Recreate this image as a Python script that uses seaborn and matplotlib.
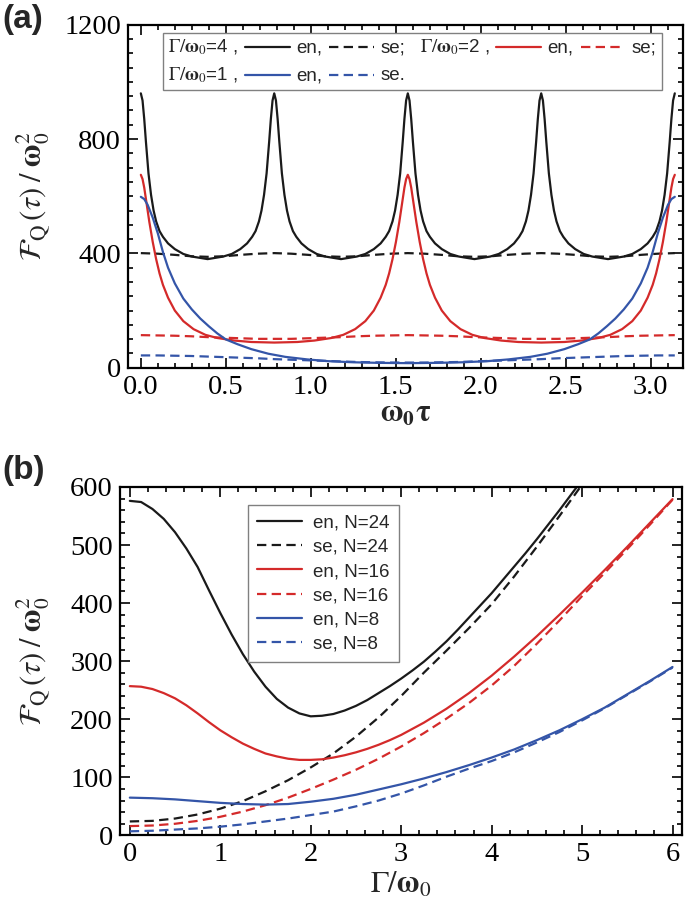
import matplotlib.pyplot as plt
import seaborn as sns
from matplotlib.lines import Line2D
from matplotlib.offsetbox import (AnchoredOffsetbox, DrawingArea, HPacker,
                                  TextArea, VPacker)
from matplotlib.ticker import FormatStrFormatter, MultipleLocator

# ---- panel (a): F_Q(tau)/w0^2 against w0*tau ----
# Gamma/w0 = 4, entangled
en4_x = [0, 0.01, 0.02, 0.03, 0.045, 0.06, 0.075, 0.09, 0.11, 0.13, 0.16, 0.20, 0.25, 0.30, 0.393,
         0.485, 0.535, 0.585, 0.625, 0.655, 0.675, 0.695, 0.710, 0.725, 0.740, 0.755, 0.765, 0.775, 0.785,
         0.795, 0.805, 0.815, 0.830, 0.845, 0.860, 0.875, 0.895, 0.915, 0.945, 0.985, 1.035, 1.085, 1.178,
         1.271, 1.321, 1.371, 1.411, 1.441, 1.461, 1.481, 1.496, 1.511, 1.526, 1.541, 1.551, 1.561, 1.571,
         1.581, 1.591, 1.601, 1.616, 1.631, 1.646, 1.661, 1.681, 1.701, 1.731, 1.771, 1.821, 1.871, 1.963,
         2.056, 2.106, 2.156, 2.196, 2.226, 2.246, 2.266, 2.281, 2.296, 2.311, 2.326, 2.336, 2.346, 2.356,
         2.366, 2.376, 2.386, 2.401, 2.416, 2.431, 2.446, 2.466, 2.486, 2.516, 2.556, 2.606, 2.656, 2.749,
         2.842, 2.892, 2.942, 2.982, 3.012, 3.032, 3.052, 3.067, 3.082, 3.097, 3.112, 3.122, 3.132, 3.142]
en4_y = [960, 935, 870, 790, 680, 605, 550, 512, 478, 458, 435, 415, 398, 389, 380,
         389, 398, 415, 435, 458, 478, 512, 550, 605, 680, 790, 870, 935, 960,
         935, 870, 790, 680, 605, 550, 512, 478, 458, 435, 415, 398, 389, 380,
         389, 398, 415, 435, 458, 478, 512, 550, 605, 680, 790, 870, 935, 960,
         935, 870, 790, 680, 605, 550, 512, 478, 458, 435, 415, 398, 389, 380,
         389, 398, 415, 435, 458, 478, 512, 550, 605, 680, 790, 870, 935, 960,
         935, 870, 790, 680, 605, 550, 512, 478, 458, 435, 415, 398, 389, 380,
         389, 398, 415, 435, 458, 478, 512, 550, 605, 680, 790, 870, 935, 960]

# Gamma/w0 = 2, entangled
en2_x = [0, 0.01, 0.02, 0.035, 0.05, 0.07, 0.09, 0.11, 0.13, 0.16, 0.20, 0.25, 0.31, 0.38, 0.45, 0.55, 0.65, 0.785,
         0.921, 1.021, 1.121, 1.191, 1.261, 1.321, 1.371, 1.411, 1.441, 1.461, 1.481, 1.501, 1.521, 1.536, 1.551, 1.561, 1.571,
         1.581, 1.591, 1.606, 1.621, 1.641, 1.661, 1.681, 1.701, 1.731, 1.771, 1.821, 1.881, 1.951, 2.021, 2.121, 2.221, 2.356,
         2.492, 2.592, 2.692, 2.762, 2.832, 2.892, 2.942, 2.982, 3.012, 3.032, 3.052, 3.072, 3.092, 3.107, 3.122, 3.132, 3.142]
en2_y = [675, 660, 630, 570, 510, 440, 380, 330, 290, 245, 200, 163, 135, 115, 104, 95, 90, 88,
         90, 95, 104, 115, 135, 163, 200, 245, 290, 330, 380, 440, 510, 570, 630, 660, 675,
         660, 630, 570, 510, 440, 380, 330, 290, 245, 200, 163, 135, 115, 104, 95, 90, 88,
         90, 95, 104, 115, 135, 163, 200, 245, 290, 330, 380, 440, 510, 570, 630, 660, 675]

# Gamma/w0 = 1, entangled
en1_x = [0, 0.02, 0.04, 0.07, 0.10, 0.13, 0.16, 0.20, 0.25, 0.30, 0.35, 0.40, 0.45, 0.50, 0.57, 0.65,
         0.75, 0.85, 0.98, 1.10, 1.25, 1.40, 1.571,
         1.742, 1.892, 2.042, 2.162, 2.292, 2.392, 2.492, 2.572, 2.642, 2.692, 2.742, 2.792, 2.842,
         2.892, 2.942, 2.982, 3.012, 3.042, 3.072, 3.102, 3.122, 3.142]
en1_y = [598, 590, 570, 525, 470, 405, 350, 295, 242, 204, 172, 145, 120, 99, 82, 65,
         49, 38, 29, 23, 19, 17, 16,
         17, 19, 23, 29, 38, 49, 65, 82, 99, 120, 145, 172, 204,
         242, 295, 350, 405, 470, 525, 570, 590, 598]

# separable curves
se_x = [0.000, 0.098, 0.196, 0.295, 0.393, 0.491, 0.589, 0.687, 0.785, 0.884, 0.982,
        1.080, 1.178, 1.276, 1.374, 1.473, 1.571, 1.669, 1.767, 1.865, 1.963, 2.062,
        2.160, 2.258, 2.356, 2.454, 2.553, 2.651, 2.749, 2.847, 2.945, 3.043, 3.142]
se4_y = [401, 399, 395, 390, 388, 390, 395, 399, 401, 399, 395, 390, 388, 390, 395, 399,
         401, 399, 395, 390, 388, 390, 395, 399, 401, 399, 395, 390, 388, 390, 395, 399, 401]
se2_y = [114, 113, 112, 110, 107, 105, 103, 101, 101, 101, 103, 105, 107, 110, 112, 113,
         114, 113, 112, 110, 107, 105, 103, 101, 101, 101, 103, 105, 107, 110, 112, 113, 114]
se1_y = [43, 43, 42, 41, 39, 37, 35, 33, 30, 28, 26, 24, 22, 20, 19, 18,
         18, 18, 19, 20, 22, 24, 26, 28, 30, 33, 35, 37, 39, 41, 42, 43, 43]

# ---- panel (b): F_Q(tau)/w0^2 against Gamma/w0 ----
gam = [0, 0.25, 0.5, 0.75, 1.0, 1.25, 1.5, 1.75, 2.0, 2.25, 2.5, 2.75, 3.0,
       3.25, 3.5, 3.75, 4.0, 4.25, 4.5, 4.75, 5.0, 5.25, 5.5, 5.75, 6.0]
gam24 = [0, 0.125, 0.25, 0.375, 0.5, 0.625, 0.75, 0.875, 1.0, 1.125, 1.25, 1.375, 1.5,
         1.625, 1.75, 1.875, 2.0, 2.125, 2.25, 2.375, 2.5, 2.625, 2.75, 2.875, 3.0,
         3.125, 3.25, 3.375, 3.5, 3.625, 3.75, 3.875, 4.0, 4.125, 4.25, 4.375, 4.5,
         4.625, 4.75, 4.875, 5.0]
en24 = [576, 574, 562, 545, 522, 494, 462, 422, 383, 346, 312, 282, 256,
        235, 220, 210, 205, 206, 209, 215, 223, 233, 245, 257, 270,
        284, 299, 316, 334, 354, 375, 396, 417, 440, 463, 486, 510,
        535, 560, 586, 612]
se24 = [24, 25, 29, 36, 46, 59, 76, 95, 117, 141, 170, 203, 240,
        280, 318, 357, 398, 446, 497, 550, 604]
gam16 = [0, 0.125, 0.25, 0.375, 0.5, 0.625, 0.75, 0.875, 1.0, 1.125, 1.25, 1.375, 1.5,
         1.625, 1.75, 1.875, 2.0, 2.125, 2.25, 2.375, 2.5, 2.625, 2.75, 2.875, 3.0,
         3.25, 3.5, 3.75, 4.0, 4.25, 4.5, 4.75, 5.0, 5.25, 5.5, 5.75, 6.0]
en16 = [257, 256, 252, 245, 236, 224, 210, 195, 181, 169, 158, 149, 141,
        136, 132, 130, 130, 131, 134, 138, 143, 149, 156, 164, 173,
        194, 218, 245, 275, 308, 343, 380, 418, 457, 497, 538, 579]
se16 = [16, 17, 20, 25, 32, 41, 52, 65, 80, 96, 113, 132, 153,
        176, 201, 228, 258, 292, 330, 370, 412, 452, 493, 535, 578]
en8 = [65, 64, 62, 59, 56, 54, 53, 54, 58, 63, 70, 79, 88,
       98, 109, 121, 134, 148, 164, 181, 200, 220, 243, 266, 290]
se8 = [7, 8, 10, 12, 15, 19, 24, 29, 35, 41, 50, 60, 72,
       86, 101, 115, 128, 143, 160, 178, 198, 219, 242, 265, 289]

sns.set_theme(style="ticks")
plt.rcParams["font.family"] = ["Liberation Serif", "DejaVu Serif"]
plt.rcParams["mathtext.fontset"] = "stix"

BLACK, RED, BLUE = "#1a1a1a", "#d42a2a", "#3455a8"
DASH = (0, (4.2, 2.4))
LW = 1.6
SANS = {"family": "Liberation Sans", "size": 13.5}

fig = plt.figure(figsize=(6.85, 9.17), dpi=100)
ax_a = fig.add_axes([0.187, 0.599, 0.810, 0.374])
ax_b = fig.add_axes([0.175, 0.089, 0.820, 0.380])

curves_a = [
    (en4_x, en4_y, BLACK, "-"), (se_x, se4_y, BLACK, DASH),
    (en2_x, en2_y, RED, "-"), (se_x, se2_y, RED, DASH),
    (en1_x, en1_y, BLUE, "-"), (se_x, se1_y, BLUE, DASH),
]
for xs, ys, c, ls in curves_a:
    sns.lineplot(x=xs, y=ys, color=c, linestyle=ls, lw=LW, estimator=None,
                 sort=False, legend=False, ax=ax_a)

curves_b = [
    (gam24, en24, BLACK, "-", "en, N=24"),
    (gam[:len(se24)], se24, BLACK, DASH, "se, N=24"),
    (gam16, en16, RED, "-", "en, N=16"),
    (gam, se16, RED, DASH, "se, N=16"),
    (gam, en8, BLUE, "-", "en, N=8"),
    (gam, se8, BLUE, DASH, "se, N=8"),
]
for xs, ys, c, ls, lab in curves_b:
    sns.lineplot(x=xs, y=ys, color=c, linestyle=ls, lw=LW, estimator=None,
                 sort=False, label=lab, ax=ax_b)

# axes styling
for ax in (ax_a, ax_b):
    for sp in ax.spines.values():
        sp.set_visible(True)
        sp.set_linewidth(1.6)
        sp.set_color("black")
    ax.tick_params(which="both", direction="in", top=True, right=True,
                   width=1.2, colors="black", labelsize=20.5, pad=5)
    ax.tick_params(which="major", length=7)
    ax.tick_params(which="minor", length=3.5)

ax_a.set_xlim(-0.075, 3.19)
ax_a.set_ylim(0, 1200)
ax_a.xaxis.set_major_locator(MultipleLocator(0.5))
ax_a.xaxis.set_minor_locator(MultipleLocator(0.1))
ax_a.xaxis.set_major_formatter(FormatStrFormatter("%.1f"))
ax_a.yaxis.set_major_locator(MultipleLocator(400))
ax_a.yaxis.set_minor_locator(MultipleLocator(50))

ax_b.set_xlim(-0.11, 6.1)
ax_b.set_ylim(0, 600)
ax_b.xaxis.set_major_locator(MultipleLocator(1))
ax_b.xaxis.set_minor_locator(MultipleLocator(0.2))
ax_b.yaxis.set_major_locator(MultipleLocator(100))
ax_b.yaxis.set_minor_locator(MultipleLocator(20))

ylab = r"$\mathcal{F}_{\mathrm{Q}}\,(\tau)\;/\;\mathbf{\omega}_0^{2}$"
ax_a.set_ylabel(ylab, fontsize=22)
ax_b.set_ylabel(ylab, fontsize=22)
ax_a.yaxis.set_label_coords(-0.135, 0.5)
ax_b.yaxis.set_label_coords(-0.119, 0.5)
ax_a.set_xlabel(r"$\mathbf{\omega_0\tau}$", fontsize=22, labelpad=0)
ax_b.set_xlabel(r"$\Gamma/\mathbf{\omega}_0$", fontsize=22, labelpad=2)


# legend of panel (a), built as rows of text and line samples
def sample(color, ls):
    da = DrawingArea(32, 10, 0, 0)
    da.add_artist(Line2D([0, 32], [4, 4], color=color, lw=LW, linestyle=ls))
    return da


def group(gtxt, color, end):
    return HPacker(children=[
        TextArea(gtxt, textprops=SANS), sample(color, "-"),
        TextArea("en,", textprops=SANS), sample(color, DASH),
        TextArea(end, textprops=SANS)], sep=5, align="baseline", pad=0)


row1 = HPacker(children=[group(r"$\Gamma/\mathbf{\omega}_0$=4 ,", BLACK, "se;"),
                         group(r"$\Gamma/\mathbf{\omega}_0$=2 ,", RED, "se;")],
               sep=10, pad=0, align="baseline")
row2 = group(r"$\Gamma/\mathbf{\omega}_0$=1 ,", BLUE, "se.")
box = AnchoredOffsetbox(loc="upper left",
                        child=VPacker(children=[row1, row2], sep=6, pad=0, align="left"),
                        pad=0.35, borderpad=0, frameon=True,
                        bbox_to_anchor=(0.063, 0.977), bbox_transform=ax_a.transAxes)
box.patch.set_boxstyle("square,pad=0")
box.patch.set_edgecolor("#808080")
box.patch.set_linewidth(1.0)
ax_a.add_artist(box)

leg = ax_b.legend(loc="upper left", bbox_to_anchor=(0.228, 0.948), borderaxespad=0,
                  frameon=True, fancybox=False, edgecolor="#808080", framealpha=1,
                  prop=SANS, handlelength=2.4, handletextpad=0.55,
                  labelspacing=0.38, borderpad=0.5)
leg.get_frame().set_linewidth(1.0)

fig.text(0.003, 0.996, "(a)", fontsize=24, fontweight="bold",
         family="Liberation Sans", va="top", ha="left")
fig.text(0.003, 0.504, "(b)", fontsize=24, fontweight="bold",
         family="Liberation Sans", va="top", ha="left")

fig.savefig("out.png", dpi=100)
